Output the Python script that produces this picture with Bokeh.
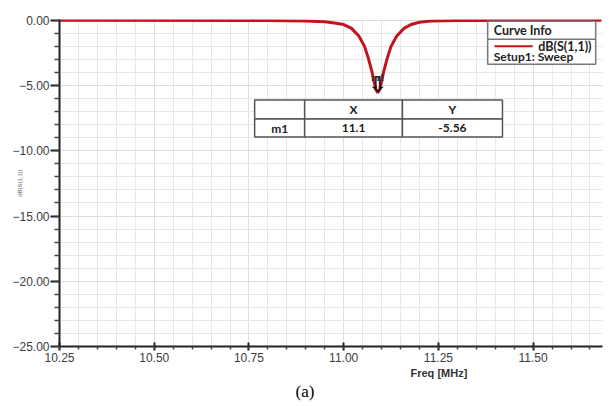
import numpy as np
from bokeh.plotting import figure
from bokeh.models import FixedTicker, Label, Range1d, Title
from bokeh.embed import file_html
from bokeh.resources import INLINE

# ---- data ----
freq_mhz = [10.25, 10.80, 10.90, 10.95, 10.98, 11.00, 11.02, 11.04, 11.055, 11.065,
            11.075, 11.08, 11.085, 11.09, 11.095, 11.10, 11.105, 11.115, 11.125,
            11.14, 11.16, 11.18, 11.20, 11.23, 11.30, 11.68]
s11_db = [0.0, -0.02, -0.06, -0.12, -0.22, -0.33, -0.6, -1.2, -2.0, -2.9,
          -4.0, -4.7, -5.3, -5.56, -5.3, -4.7, -4.0, -2.9, -2.0,
          -1.2, -0.6, -0.3, -0.15, -0.06, -0.02, 0.0]
marker_name = "m1"
marker_x = 11.09
marker_y = -5.56
x_ticks = [10.25, 10.50, 10.75, 11.00, 11.25, 11.50]
x_tick_labels = ["10.25", "10.50", "10.75", "11.00", "11.25", "11.50"]
y_ticks = [0, -5, -10, -15, -20, -25]
y_tick_labels = ["0.00", "\u22125.00", "\u221210.00", "\u221215.00", "\u221220.00", "\u221225.00"]
x_minor = [round(10.25 + 0.05 * i, 2) for i in range(29)]
y_minor = list(range(0, -26, -1))

RED = "#c3141e"
p = figure(width=604, height=401, output_backend="svg", toolbar_location=None,
           x_range=Range1d(10.25, 11.683), y_range=Range1d(-25, 0.06),
           min_border_left=59, min_border_right=2, min_border_top=19, min_border_bottom=20)
p.outline_line_color = None
p.background_fill_color = "white"

p.xaxis.ticker = FixedTicker(ticks=x_ticks, minor_ticks=x_minor)
p.yaxis.ticker = FixedTicker(ticks=y_ticks, minor_ticks=y_minor)
p.xaxis.major_label_overrides = dict(zip(x_ticks, x_tick_labels))
p.yaxis.major_label_overrides = dict(zip(y_ticks, y_tick_labels))
for ax in (p.xaxis, p.yaxis):
    ax.axis_line_color = "#222222"
    ax.axis_line_width = 2
    ax.major_tick_line_color = "#222222"
    ax.minor_tick_line_color = "#444444"
    ax.major_tick_line_width = 2
    ax.minor_tick_line_width = 1.5
    ax.major_label_text_font = "Liberation Sans"
    ax.major_label_text_font_size = "12px"
    ax.major_label_text_color = "#3c3c3c"
p.yaxis.major_tick_out = 9
p.yaxis.major_tick_in = 0
p.yaxis.minor_tick_out = 5
p.yaxis.minor_tick_in = 0
p.yaxis.major_label_standoff = 1
p.yaxis.axis_label = "dB(S(1,1))"
p.yaxis.axis_label_text_font = "Liberation Sans"
p.yaxis.axis_label_text_font_size = "6px"
p.yaxis.axis_label_text_font_style = "normal"
p.yaxis.axis_label_text_color = "#666666"
p.yaxis.axis_label_standoff = -14
p.xaxis.major_tick_out = 4
p.xaxis.major_tick_in = 4
p.xaxis.minor_tick_out = 3
p.xaxis.minor_tick_in = 0
p.xaxis.major_label_standoff = 2

for g in (p.xgrid, p.ygrid):
    g.grid_line_color = "#d9e0e0"
    g.grid_line_width = 1
    g.minor_grid_line_color = "#e3e8e8"
    g.minor_grid_line_width = 1

p.line(freq_mhz, s11_db, line_color=RED, line_width=3)

# x-axis title and caption below the axis
p.add_layout(Title(text="Freq [MHz]", align="left", offset=351, standoff=0,
                   text_font="Liberation Sans", text_font_size="11px", text_font_style="bold",
                   text_color="#333333"), "below")
p.add_layout(Title(text="(a)", align="left", offset=236, standoff=2,
                   text_font="Liberation Serif", text_font_size="17px", text_font_style="normal",
                   text_color="#000000"), "below")

# curve info box
p.quad(left=[11.380], right=[11.665], top=[-0.076], bottom=[-3.364],
       fill_color="white", line_color="#777777", line_width=1.5)
p.segment(x0=[11.380], x1=[11.665], y0=[-1.453], y1=[-1.453], line_color="#777777", line_width=1.5)
p.segment(x0=[11.398], x1=[11.499], y0=[-1.99], y1=[-1.99], line_color=RED, line_width=2)

def lab(x, y, t, size="12px", align="left", font="Lato", style="bold", color="#222222", angle=0.0):
    p.add_layout(Label(x=x, y=y, text=t, text_font_size=size, text_align=align,
                       text_baseline="middle", text_font=font, text_font_style=style,
                       text_color=color, angle=angle))

lab(11.396, -0.76, "Curve Info", size="12.5px")
lab(11.654, -1.99, "dB(S(1,1))", size="12.5px", align="right")
lab(11.396, -2.75, "Setup1: Sweep", size="12px")

# marker table
tx = [10.765, 10.897, 11.155, 11.419]
ty = [-6.116, -7.569, -8.945]
lefts, rights, tops, bottoms = [], [], [], []
for r in range(2):
    for c in range(3):
        lefts.append(tx[c]); rights.append(tx[c + 1]); tops.append(ty[r]); bottoms.append(ty[r + 1])
p.quad(left=lefts, right=rights, top=tops, bottom=bottoms,
       fill_color="white", line_color="#555555", line_width=1.5)
cx = [(tx[i] + tx[i + 1]) / 2 for i in range(3)]
cy = [(ty[i] + ty[i + 1]) / 2 for i in range(2)]
lab(cx[1], cy[0], "X", align="center")
lab(cx[2], cy[0], "Y", align="center")
lab(cx[0], cy[1], marker_name, align="center")
lab(cx[1], cy[1], f"{marker_x:.1f}", align="center")
lab(cx[2], cy[1], f"{marker_y:.2f}", align="center")

# marker arrow (hollow block arrow) and name
p.add_layout(Label(x=marker_x, y=marker_y, text="\u21e9", text_font_size="22px", text_align="center",
                   text_baseline="bottom", text_font="DejaVu Sans", text_font_style="bold",
                   text_color="#111111", y_offset=-4))
lab(marker_x, -4.35, marker_name, size="10px", align="center", font="Liberation Serif",
    style="bold", color="#333333")

open("out.html", "w").write(file_html(p, INLINE))
